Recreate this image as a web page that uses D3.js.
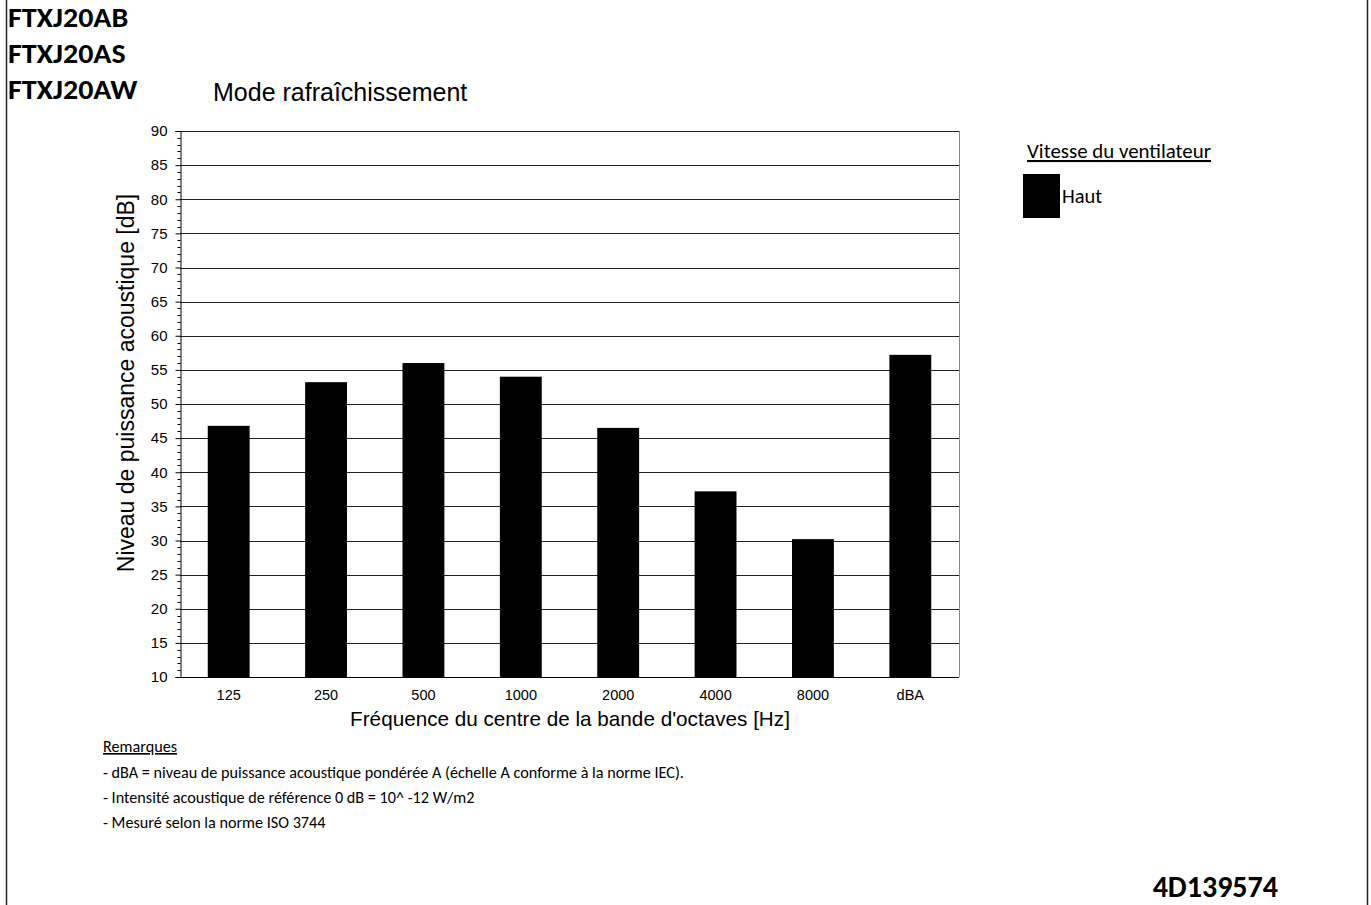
<!DOCTYPE html>
<html><head><meta charset="utf-8">
<script src="https://cdn.jsdelivr.net/npm/d3@7/dist/d3.min.js"></script>
<style>body{margin:0;background:#fff}svg{display:block}</style>
</head><body>
<script>
const categories = ["125","250","500","1000","2000","4000","8000","dBA"];
const values = [46.8, 53.2, 56.0, 54.0, 46.5, 37.2, 30.2, 57.2];
const yTicks = [10,15,20,25,30,35,40,45,50,55,60,65,70,75,80,85,90];
const models = ["FTXJ20AB","FTXJ20AS","FTXJ20AW"];
const notes = ["- dBA = niveau de puissance acoustique pondérée A (échelle A conforme à la norme IEC).",
  "- Intensité acoustique de référence 0 dB = 10^ -12 W/m2",
  "- Mesuré selon la norme ISO 3744"];
const seriesName = "Haut";

const W = 1371, H = 905;
const svg = d3.select("body").append("svg").attr("width", W).attr("height", H);
const m = {left:180, right:959, top:131, bottom:677};
const arial = "Arial, 'Liberation Sans', sans-serif";
const cal = "Calibri, Carlito, Lato, sans-serif";

// frame
svg.append("line").attr("x1",6.5).attr("x2",6.5).attr("y1",0).attr("y2",H).attr("stroke","#222").attr("stroke-width",1.5);
svg.append("line").attr("x1",1367.5).attr("x2",1367.5).attr("y1",0).attr("y2",H).attr("stroke","#222").attr("stroke-width",1.5);

svg.selectAll("text.model").data(models).enter().append("text")
  .attr("x",8).attr("y",(d,i)=>27+i*36).text(d=>d)
  .attr("font-family",cal).attr("font-weight","bold").attr("font-size",28).attr("fill","#000")
  .each(function(){ const w=this.getComputedTextLength(); d3.select(this).attr("textLength",w*1.07).attr("lengthAdjust","spacingAndGlyphs"); });

svg.append("text").attr("x",213).attr("y",101).text("Mode rafraîchissement")
  .attr("font-family",arial).attr("font-size",25);

const x = d3.scaleBand().domain(categories).range([m.left, m.right]).paddingInner(0.57).paddingOuter(0.285);
const y = d3.scaleLinear().domain([10,90]).range([m.bottom, m.top]);

// gridlines
svg.append("g").selectAll("line").data(yTicks.slice(1)).enter().append("line")
  .attr("x1",m.left).attr("x2",m.right)
  .attr("y1",d=>Math.round(y(d))+0.5).attr("y2",d=>Math.round(y(d))+0.5)
  .attr("stroke","#222").attr("stroke-width",1);
svg.append("line").attr("x1",m.right+0.5).attr("x2",m.right+0.5).attr("y1",m.top).attr("y2",m.bottom)
  .attr("stroke","#888");

// bars
svg.append("g").selectAll("rect").data(values).enter().append("rect")
  .attr("x",(d,i)=>x(categories[i])).attr("width",x.bandwidth())
  .attr("y",d=>y(d)).attr("height",d=>y(10)-y(d)).attr("fill","#000");

// y axis
const yAxis = d3.axisLeft(y).tickValues(yTicks).tickSize(5).tickPadding(8).tickFormat(d3.format("d"));
const ga = svg.append("g").attr("transform",`translate(${m.left+0.5},0)`).call(yAxis);
ga.select(".domain").attr("stroke","#000");
ga.selectAll("text").attr("font-family",arial).attr("font-size",15).attr("fill","#000");
const minor = d3.range(10,90).filter(v=>v%5!==0);
svg.append("g").attr("transform",`translate(${m.left+0.5},0)`).selectAll("line").data(minor).enter().append("line")
  .attr("x1",-3).attr("x2",0).attr("y1",d=>Math.round(y(d))+0.5).attr("y2",d=>Math.round(y(d))+0.5).attr("stroke","#000");

// x axis
svg.append("line").attr("x1",m.left).attr("x2",m.right).attr("y1",m.bottom+0.5).attr("y2",m.bottom+0.5).attr("stroke","#000");
const xAxis = d3.axisBottom(x).tickSize(0).tickPadding(13);
const gx = svg.append("g").attr("transform",`translate(0,${m.bottom})`).call(xAxis);
gx.select(".domain").remove();
gx.selectAll("text").attr("font-family",arial).attr("font-size",14.5).attr("fill","#000");

svg.append("text").attr("x",570).attr("y",726).attr("text-anchor","middle")
  .text("Fréquence du centre de la bande d'octaves [Hz]")
  .attr("font-family",arial).attr("font-size",20.7);
svg.append("text").attr("transform",`translate(134,383) rotate(-90)`).attr("text-anchor","middle")
  .text("Niveau de puissance acoustique [dB]")
  .attr("font-family",arial).attr("font-size",23);

// legend
svg.append("text").attr("x",1027).attr("y",158).text("Vitesse du ventilateur")
  .attr("font-family",cal).attr("font-size",20.9).attr("text-decoration","underline");
svg.append("rect").attr("x",1023).attr("y",174).attr("width",37).attr("height",44).attr("fill","#000");
svg.append("text").attr("x",1062).attr("y",203).text(seriesName).attr("font-family",cal).attr("font-size",20.5);

// notes
svg.append("text").attr("x",103).attr("y",752).text("Remarques").attr("font-family",cal).attr("font-size",16.2).attr("text-decoration","underline");
svg.selectAll("text.note").data(notes).enter().append("text")
  .attr("x",103).attr("y",(d,i)=>778+i*25).text(d=>d).attr("font-family",cal).attr("font-size",16.2);

svg.append("text").attr("x",1278).attr("y",897).attr("text-anchor","end").text("4D139574")
  .attr("font-family",cal).attr("font-weight","bold").attr("font-size",30);
</script>
</body></html>
